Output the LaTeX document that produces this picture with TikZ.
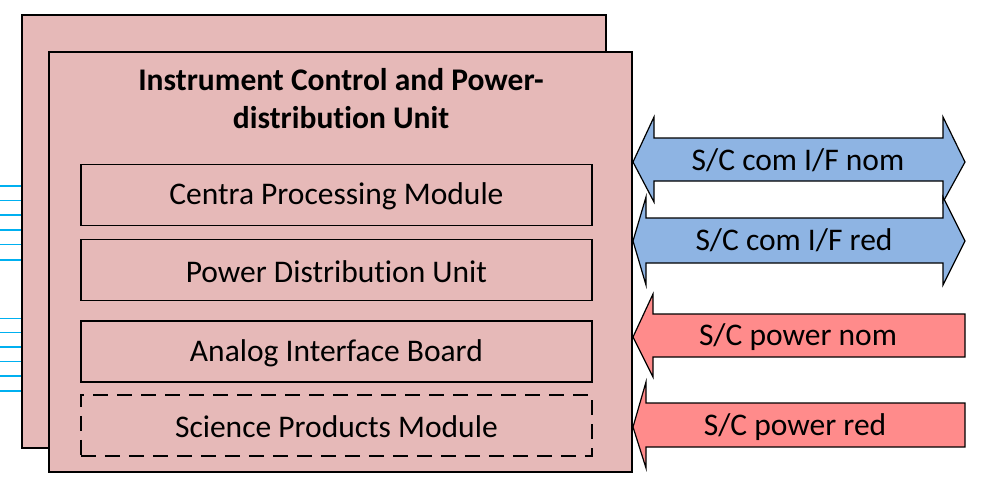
\documentclass[tikz,border=0pt]{standalone}
\usepackage{fontspec}
\setmainfont{Carlito}[Ligatures=NoCommon]
\definecolor{unitfill}{HTML}{E6B9B8}
\definecolor{comfill}{HTML}{8EB4E3}
\definecolor{powfill}{HTML}{FF8B8B}
\definecolor{wire}{HTML}{00B0F0}
\begin{document}
\begin{tikzpicture}[x=1pt,y=-1pt,
  unitbox/.style={draw=black, line width=2pt, fill=unitfill, anchor=north west, inner sep=0pt},
  modbox/.style={draw=black, line width=1.8pt, anchor=north west, inner sep=0pt,
    minimum width=511pt, minimum height=61pt},
  modtext/.style={font=\fontsize{31.5}{36}\selectfont, yshift=-1.5pt},
  arrowshape/.style={draw=black, line width=1.2pt, line join=miter},
  arrowtext/.style={font=\fontsize{31.5}{36}\selectfont},
  wireline/.style={draw=wire, line width=1.6pt}]
\useasboundingbox (0,0) rectangle (985,482);

% signal wires on the left
\foreach \y in {186,200.5,215,230,244.5,260}
  \draw[wireline] (0,\y) -- (22,\y);
\foreach \y in {318.5,332.5,347,361.5,376,391}
  \draw[wireline] (0,\y) -- (48,\y);

% redundant unit behind, nominal unit in front
\node[unitbox, minimum width=584pt, minimum height=433pt] (back) at (21,14) {};
\node[unitbox, minimum width=583.5pt, minimum height=420pt] (front) at (47.5,51) {};

\node[font=\bfseries\fontsize{31.5}{38}\selectfont, align=center] (title) at (341,99)
  {Instrument Control and Power-\\distribution Unit};

% modules
\node[modbox] (cpm) at (80,163.5) {};
\node[modtext] at (cpm.center) {Centra Processing Module};
\node[modbox] (pdu) at (80,238.5) {};
\node[modtext] at (pdu.center) {Power Distribution Unit};
\node[modbox] (aib) at (80,320) {};
\node[modtext] at (aib.center) {Analog Interface Board};
\node[modbox, dash pattern=on 15pt off 9pt] (spm) at (80,394) {};
\node[modtext] at (spm.center) {Science Products Module};

% spacecraft communication interfaces (bidirectional)
\draw[arrowshape, fill=comfill] (633,162) -- (654,117) -- (654,138) -- (943,138) -- (943,117)
  -- (965,162) -- (943,202) -- (943,181) -- (654,181) -- (654,202) -- cycle;
\node[arrowtext] (comnom) at (798,160) {S/C com I/F nom};
\draw[arrowshape, fill=comfill] (633,241) -- (646,197) -- (646,218) -- (943,218) -- (943,197)
  -- (965,241) -- (943,285) -- (943,263) -- (646,263) -- (646,285) -- cycle;
\node[arrowtext] (comred) at (794,240) {S/C com I/F red};

% spacecraft power inputs
\draw[arrowshape, fill=powfill] (633,337) -- (653,294) -- (653,314) -- (965,314) -- (965,357)
  -- (653,357) -- (653,377) -- cycle;
\node[arrowtext] (pwrnom) at (798,337) {S/C power nom};
\draw[arrowshape, fill=powfill] (633,427) -- (646,382) -- (646,403) -- (965,403) -- (965,447)
  -- (646,447) -- (646,468) -- cycle;
\node[arrowtext] (pwrred) at (795,427) {S/C power red};
\end{tikzpicture}
\end{document}
